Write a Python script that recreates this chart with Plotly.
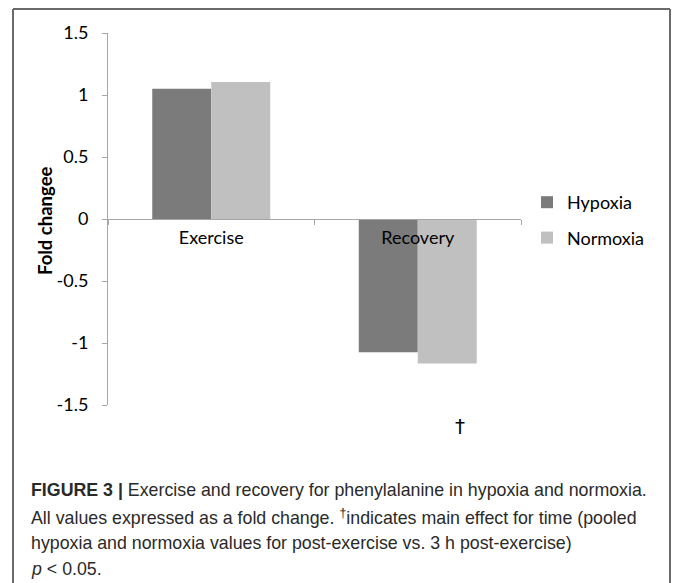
import plotly.graph_objects as go

categories = ["Exercise", "Recovery"]
hypoxia = [1.05, -1.075]
normoxia = [1.105, -1.165]
series_names = ["Hypoxia", "Normoxia"]
y_ticks = [1.5, 1, 0.5, 0, -0.5, -1, -1.5]
y_tick_labels = ["1.5", "1", "0.5", "0", "-0.5", "-1", "-1.5"]
caption_lines = [
    "<b>FIGURE 3 |</b> Exercise and recovery for phenylalanine in hypoxia and normoxia.",
    "All values expressed as a fold change. <sup>†</sup>indicates main effect for time (pooled",
    "hypoxia and normoxia values for post-exercise vs. 3 h post-exercise)",
    "<i>p</i> &lt; 0.05.",
]

W, H = 673, 583
L, R, T, B = 108, 521, 33, 405


def px(x):
    return (x - L) / (R - L)


def py(y):
    return (B - y) / (B - T)


fig = go.Figure()
fig.add_trace(go.Bar(x=categories, y=hypoxia, name=series_names[0],
                     marker=dict(color="#7b7b7b", line=dict(width=0)),
                     legendgroup="a"))
fig.add_trace(go.Bar(x=categories, y=normoxia, name=series_names[1],
                     marker=dict(color="#c0c0c0", line=dict(width=0)),
                     legendgroup="b"))

chart_font = "Lato, 'Open Sans', sans-serif"
axis_col = "#a6a6a6"

fig.update_layout(
    width=W, height=H,
    margin=dict(l=L, r=W - R, t=T, b=H - B, pad=0),
    paper_bgcolor="white", plot_bgcolor="white",
    barmode="group", bargap=0.4286, bargroupgap=0,
    font=dict(family=chart_font, size=18, color="#000"),
    xaxis=dict(
        type="category", anchor="free", position=0.5,
        showline=True, linecolor=axis_col, linewidth=1,
        ticks="outside", ticklen=5, tickcolor=axis_col, tickson="boundaries",
        showgrid=False, zeroline=False,
        tickfont=dict(family=chart_font, size=18, color="#000"),
        ticklabelstandoff=2,
    ),
    yaxis=dict(
        range=[-1.5, 1.5], tickvals=y_ticks, ticktext=y_tick_labels,
        showline=True, linecolor=axis_col, linewidth=1,
        ticks="outside", ticklen=5, tickcolor=axis_col,
        showgrid=False, zeroline=False,
        tickfont=dict(family=chart_font, size=18, color="#000"),
        ticklabelstandoff=10,
    ),
    showlegend=True,
    legend=dict(
        x=px(527), y=py(184), xanchor="left", yanchor="top",
        font=dict(family=chart_font, size=18, color="#000"),
        traceorder="grouped", tracegroupgap=9,
        bgcolor="rgba(0,0,0,0)", itemwidth=30,
    ),
)

annotations = [
    dict(text="<b>Fold changee</b>", x=px(45), y=py(220), xref="paper", yref="paper",
         xanchor="center", yanchor="middle",
         textangle=-90, showarrow=False, font=dict(family=chart_font, size=18.5, color="#000")),
    dict(text="†", x=px(460), y=py(426), xref="paper", yref="paper", showarrow=False,
         xanchor="center", yanchor="middle",
         font=dict(family="DejaVu Sans", size=20, color="#000")),
]
caption_y = [490, 517, 543, 569]
for t, yy in zip(caption_lines, caption_y):
    annotations.append(dict(
        text=t, x=px(29), y=py(yy), xref="paper", yref="paper", xanchor="left",
        yanchor="middle", showarrow=False, align="left",
        font=dict(family="'Liberation Sans', Arial, sans-serif", size=17.8, color="#2a2a2a"),
    ))
fig.update_layout(annotations=annotations)

frame_col = "#6a6a6a"
shapes = [
    dict(type="line", xref="paper", yref="paper", x0=px(13), x1=px(13), y0=py(9), y1=py(600),
         line=dict(color=frame_col, width=2)),
    dict(type="line", xref="paper", yref="paper", x0=px(13), x1=px(670), y0=py(9), y1=py(9),
         line=dict(color=frame_col, width=2)),
    dict(type="line", xref="paper", yref="paper", x0=px(670), x1=px(670), y0=py(9), y1=py(600),
         line=dict(color=frame_col, width=2)),
]
fig.update_layout(shapes=shapes)

fig.write_html("out.html", config={"displayModeBar": False},
               post_script="document.body.style.margin='0';document.body.style.overflow='hidden';")
